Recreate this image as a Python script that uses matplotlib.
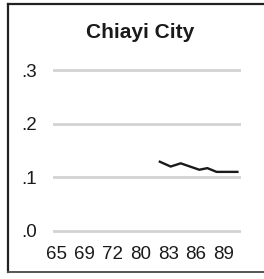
import matplotlib
matplotlib.use("Agg")
import matplotlib.pyplot as plt
from matplotlib.lines import Line2D

plt.rcParams['font.family'] = ['Liberation Sans', 'DejaVu Sans']

title = "Chiayi City"
year_labels = ["65", "69", "72", "80", "83", "86", "89"]
y_ticks = [0.0, 0.1, 0.2, 0.3]
y_tick_labels = [".0", ".1", ".2", ".3"]
# x measured in label slots (0 = "65", 6 = "89")
line_x = [3.70, 4.09, 4.45, 5.12, 5.41, 5.74, 6.49]
line_y = [0.129, 0.120, 0.126, 0.114, 0.117, 0.110, 0.110]

W, H = 264, 279
fig = plt.figure(figsize=(W / 100, H / 100), dpi=100)
ax = fig.add_axes([53.3 / W, 0.1348, (241 - 53.3) / W, 0.6516])

ax.plot(line_x, line_y, color="#1a1a1a", lw=1.7, solid_joinstyle="miter", zorder=3)

ax.set_xlim(-0.133, 6.62)
ax.set_ylim(-0.02, 0.32)
ax.set_xticks(range(len(year_labels)))
ax.set_xticklabels(year_labels)
ax.set_yticks(y_ticks)
ax.set_yticklabels(y_tick_labels)
ax.tick_params(axis="both", length=0, labelsize=13.5, colors="#1a1a1a")
ax.tick_params(axis="y", pad=11.5)
ax.tick_params(axis="x", pad=3.0)
for lab in ax.get_yticklabels():
    lab.set_horizontalalignment("right")
ax.yaxis.grid(True, color="#d3d3d3", lw=2.0)
ax.set_axisbelow(True)
for s in ax.spines.values():
    s.set_visible(False)

fig.text(139.7 / W, (H - 38.3) / H, title, ha="center", va="baseline",
         fontsize=15, fontweight="bold", color="#1a1a1a")

# panel frame (open on the right)
fx0 = 7.5 / W
fy_top = 1 - 4 / H
fy_bot = 1 - 272 / H
fig.add_artist(Line2D([fx0, fx0], [fy_bot, fy_top], color="#222222", lw=1.6))
fig.add_artist(Line2D([fx0, 1.0], [fy_top, fy_top], color="#222222", lw=1.6))
fig.add_artist(Line2D([fx0, 1.0], [fy_bot, fy_bot], color="#555555", lw=1.4))

fig.savefig("out.png", dpi=100)
